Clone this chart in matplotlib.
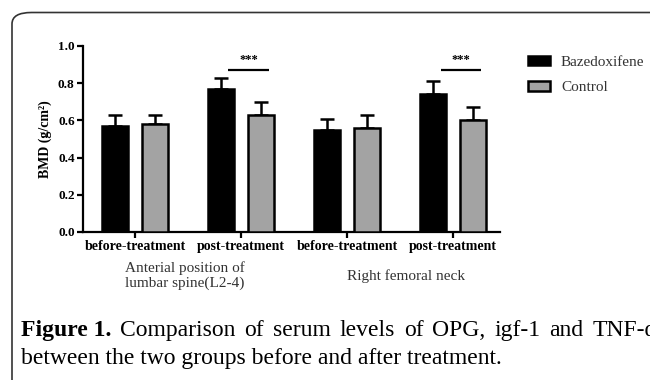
import matplotlib
matplotlib.use("Agg")
import matplotlib.pyplot as plt
from matplotlib.patches import FancyBboxPatch
import numpy as np

# ---- data ----
categories = ["before-treatment", "post-treatment", "before-treatment", "post-treatment"]
groups = ["Anterial position of\nlumbar spine(L2-4)", "Right femoral neck"]
series_names = ["Bazedoxifene", "Control"]
baz_mean = [0.57, 0.77, 0.55, 0.74]
baz_err = [0.06, 0.06, 0.06, 0.07]
ctl_mean = [0.58, 0.63, 0.56, 0.60]
ctl_err = [0.05, 0.07, 0.07, 0.07]
sig_pairs = [1, 3]
sig_label = "***"
yticks = [0.0, 0.2, 0.4, 0.6, 0.8, 1.0]
caption_bold = "Figure 1."
caption_line1 = "Comparison of serum levels of OPG, igf-1 and TNF-α"
caption_line2 = "between the two groups before and after treatment."

serif = ["Liberation Serif", "DejaVu Serif"]
plt.rcParams["font.family"] = serif

W, H = 650, 380
fig = plt.figure(figsize=(W / 100, H / 100), dpi=100)
fig.patch.set_facecolor("white")

# frame
frame = FancyBboxPatch((12 / W, -20 / H), 700 / W, (H - 12.5 + 20) / H,
                       boxstyle="round,pad=0,rounding_size=0.03",
                       transform=fig.transFigure, fill=False,
                       edgecolor="#333333", linewidth=1.2, zorder=0)
fig.patches.append(frame)

ax = fig.add_axes([83 / W, 1 - 232 / H, (500 - 83) / W, (232 - 46) / H])
x = np.arange(len(categories))
bw = 0.245
off = 0.19
ekw = dict(elinewidth=1.8, capthick=1.8, ecolor="black")
ax.bar(x - off, baz_mean, bw, color="black", edgecolor="black", linewidth=1.8,
       label=series_names[0], zorder=3)
ax.bar(x + off, ctl_mean, bw, color="#a3a3a3", edgecolor="black", linewidth=1.8,
       label=series_names[1], zorder=3)
ax.errorbar(x - off, baz_mean, yerr=[np.zeros(4), baz_err], fmt="none",
            capsize=5, zorder=2, **ekw)
ax.errorbar(x + off, ctl_mean, yerr=[np.zeros(4), ctl_err], fmt="none",
            capsize=5, zorder=2, **ekw)

for i in sig_pairs:
    ax.plot([i - 0.12, i + 0.26], [0.87, 0.87], color="black", lw=1.6,
            solid_capstyle="butt", clip_on=False)
    ax.text(i + 0.07, 0.89, sig_label, ha="center", va="bottom",
            fontsize=9, fontweight="bold")

ax.set_xlim(-0.49, 3.44)
ax.set_ylim(0, 1.0)
ax.set_yticks(yticks)
ax.set_yticklabels([f"{v:.1f}" for v in yticks], fontsize=9.5, fontweight="bold")
ax.set_xticks(x)
ax.set_xticklabels(categories, fontsize=10, fontweight="bold")
for s in ["top", "right"]:
    ax.spines[s].set_visible(False)
for s in ["left", "bottom"]:
    ax.spines[s].set_linewidth(1.6)
ax.tick_params(axis="both", width=1.6, length=4, pad=2)
ax.set_ylabel("BMD (g/cm²)", fontsize=10, fontweight="bold", labelpad=4)

ax.text(0.47, -0.155, groups[0], transform=ax.get_xaxis_transform(),
        ha="center", va="top", fontsize=11, color="#333333", linespacing=1.15)
ax.text(2.55, -0.2, groups[1], transform=ax.get_xaxis_transform(),
        ha="center", va="top", fontsize=11, color="#333333")

leg = ax.legend(loc="upper left", bbox_to_anchor=(522 / W, 1 - 50 / H),
                bbox_transform=fig.transFigure, frameon=False, fontsize=11,
                handlelength=1.4, handleheight=0.55, handletextpad=0.75,
                labelspacing=0.8, borderaxespad=0)
for t in leg.get_texts():
    t.set_color("#333333")

# caption: first line justified to a column slightly wider than the image
cap_size = 17
renderer = fig.canvas.get_renderer()
x0, x_end = 21, 657
y1, y2 = 1 - 336 / H, 1 - 364 / H
words = [(caption_bold, "bold")] + [(w, "normal") for w in caption_line1.split(" ")]
arts = []
total = 0
for w, fw in words:
    t = fig.text(0, y1, w, fontsize=cap_size, fontweight=fw, ha="left", va="baseline")
    wpx = t.get_window_extent(renderer=renderer).width
    arts.append((t, wpx))
    total += wpx
gap = (x_end - x0 - total) / (len(words) - 1)
cx = x0
for t, wpx in arts:
    t.set_x(cx / W)
    cx += wpx + gap
fig.text(x0 / W, y2, caption_line2, fontsize=cap_size, ha="left", va="baseline")

fig.savefig("out.png", dpi=100)
